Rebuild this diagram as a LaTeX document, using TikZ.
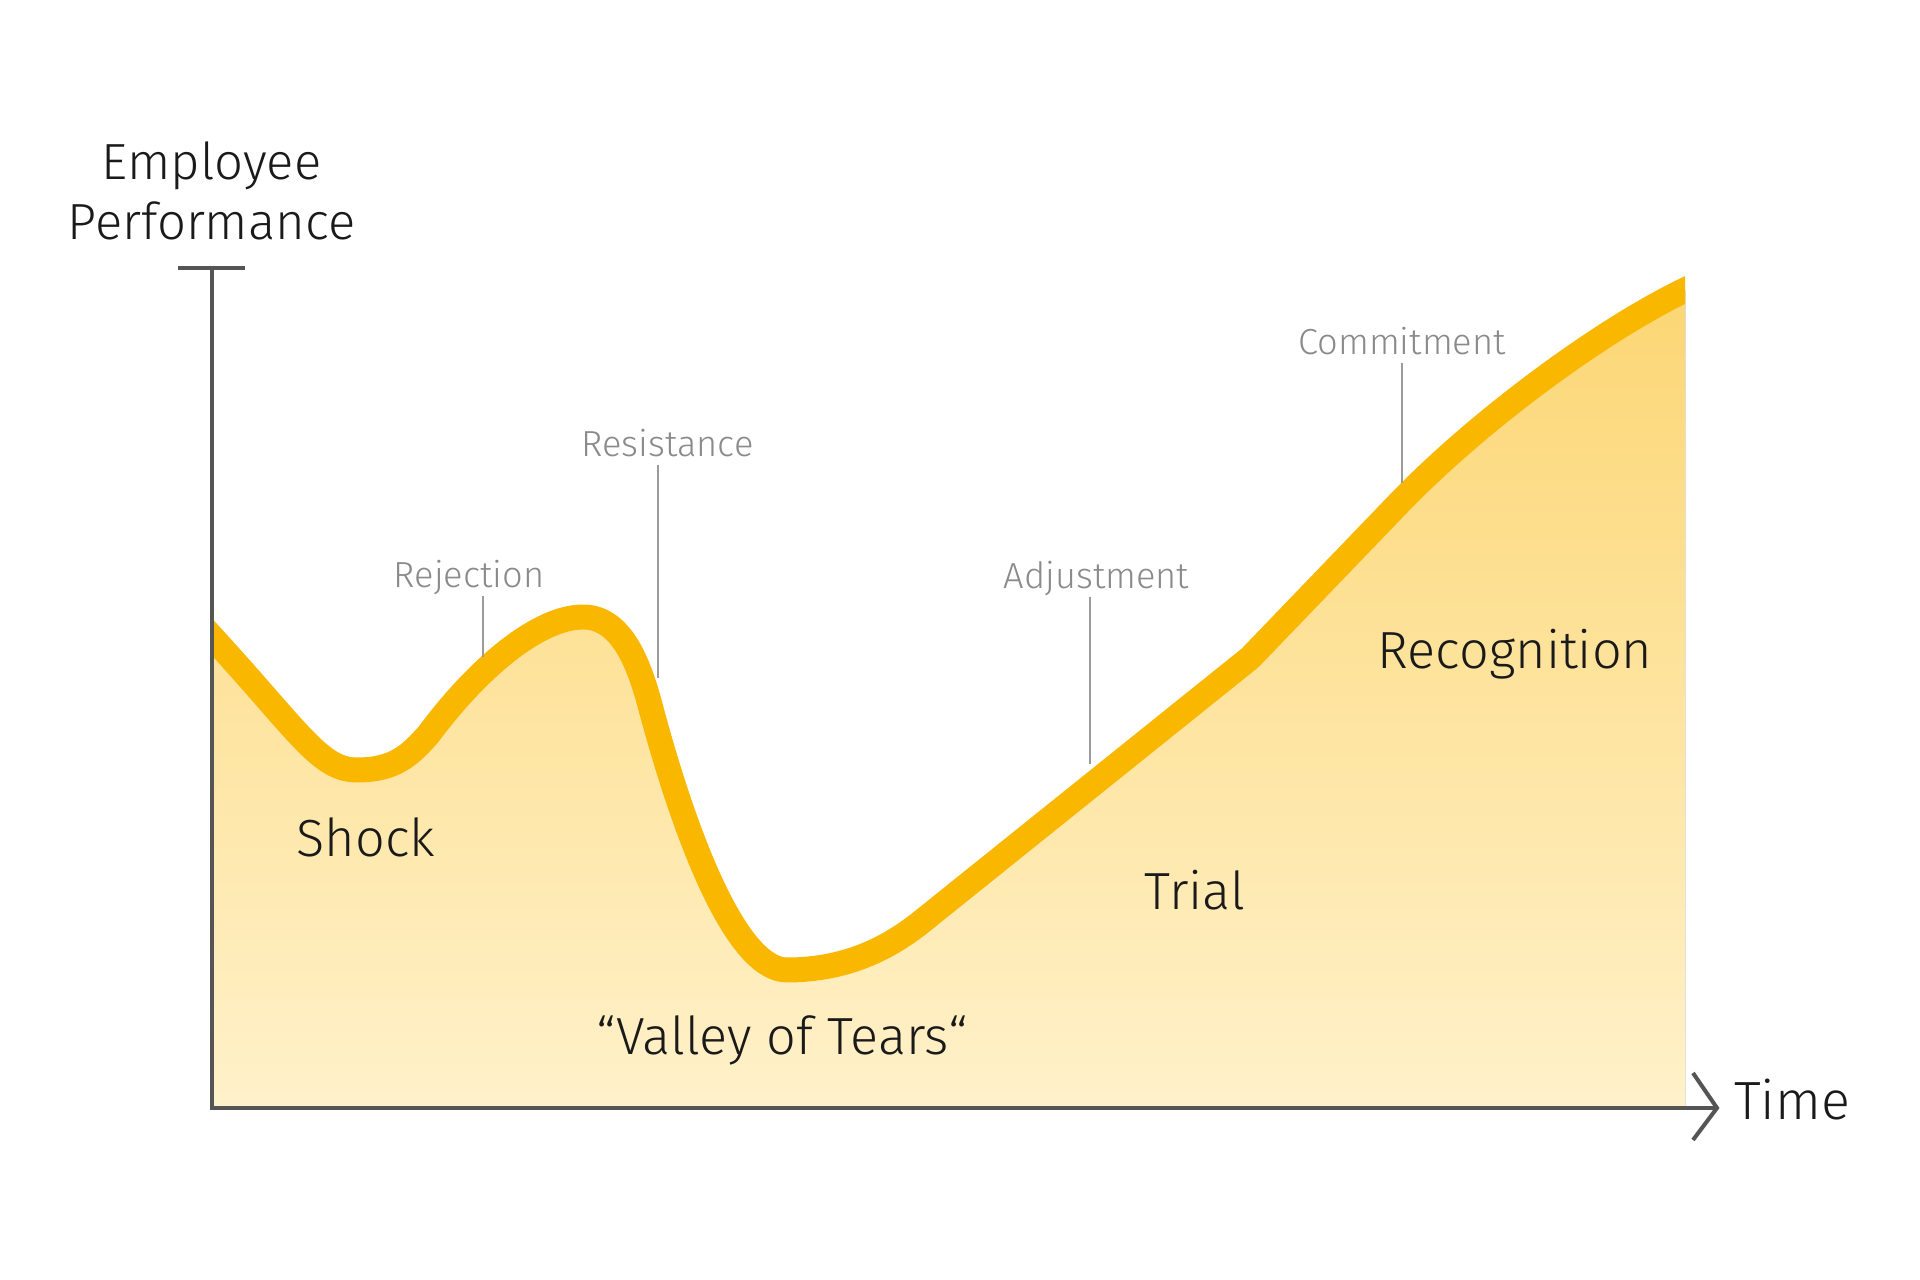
\documentclass[tikz,border=0pt]{standalone}
\usepackage{fontspec}
\setmainfont{Fira Sans Light}
\usetikzlibrary{positioning, calc}
\definecolor{cvyellow}{RGB}{249, 183, 0}
\definecolor{cvfilltop}{RGB}{252, 214, 115}
\definecolor{cvfillmid}{RGB}{253, 222, 138}
\definecolor{cvfillbot}{RGB}{255, 241, 202}
\definecolor{cvaxis}{RGB}{85, 85, 85}
\definecolor{cvgrey}{RGB}{138, 138, 138}
\definecolor{cvleader}{RGB}{155, 155, 155}
\definecolor{cvtext}{RGB}{26, 26, 26}
\tikzset{
  curve/.style={draw=cvyellow, line width=7.1pt, line join=round},
  areafill/.style={top color=cvfilltop, middle color=cvfillmid, bottom color=cvfillbot},
  axisline/.style={draw=cvaxis, line width=1.15pt},
  leader/.style={draw=cvleader, line width=0.6pt},
  phase/.style={text=cvtext, inner sep=0pt, anchor=base,
                font=\fontsize{14.85}{17.07}\selectfont},
  stage/.style={text=cvgrey, inner sep=0pt, anchor=base, text depth=2pt,
                font=\fontsize{10.3}{12}\selectfont},
}
% change curve, in pixel units
\newcommand{\changecurve}{(195,618.5) -- (212,637)
  .. controls (300,733) and (320,770) .. (357,770)
  .. controls (395,770) and (410,755) .. (428,735)
  .. controls (480,665) and (540,617) .. (583,617)
  .. controls (620,617) and (638,660) .. (650,705)
  .. controls (690,855) and (740,970) .. (787,970)
  .. controls (850,970) and (892,945) .. (920,923)
  -- (1250,658) -- (1402,500)
  .. controls (1480,420) and (1600,331) .. (1685,290) -- (1705,280.4)}

\begin{document}
\begin{tikzpicture}[x=0.01cm, y=-0.01cm]
  \fill[white] (0,0) rectangle (1920,1280);
  \useasboundingbox (0,0) rectangle (1920,1280);

  % area and curve
  \begin{scope}
    \clip (212,0) rectangle (1685,1280);
    \fill[areafill] \changecurve -- (1705,1108) -- (195,1108) -- cycle;
    \draw[curve] \changecurve;
  \end{scope}

  % axes
  \coordinate (origin) at (212,1108);
  \coordinate (ytop) at (212,268);
  \coordinate (xend) at (1717,1108);
  \coordinate (tickl) at (178,268);
  \coordinate (tickr) at (245,268);
  \coordinate (chevtop) at (1693,1073);
  \coordinate (chevbot) at (1693,1140);
  \draw[axisline] (ytop) -- (origin) -- (xend);
  \draw[axisline] (tickl) -- (tickr);
  \draw[axisline] (chevtop) -- (xend) -- (chevbot);

  \node[phase, align=center, font=\fontsize{14.45}{17.07}\selectfont] (perf) at (211.5,240) {Employee\\Performance};
  \node[phase, font=\fontsize{15.3}{18}\selectfont] (time) at (1792,1120) {Time};

  % phases
  \node[phase] (shock) at (366,857) {Shock};
  \node[phase] (valley) at (782,1055) {“Valley of Tears“};
  \node[phase] (trial) at (1195,910) {Trial};
  \node[phase] (recog) at (1515,669) {Recognition};

  % stages with leaders
  \node[stage] (rej) at (469,588) {Rejection};
  \node[stage] (res) at (667.5,457) {Resistance};
  \node[stage] (adj) at (1096.5,589) {Adjustment};
  \node[stage] (com) at (1402,355) {Commitment};
  \coordinate (rejtip) at (483,657);
  \coordinate (restip) at (658,678);
  \coordinate (adjtip) at (1090,764);
  \coordinate (comtip) at (1402,483);
  \draw[leader] (rej.south -| rejtip) -- (rejtip);
  \draw[leader] (res.south -| restip) -- (restip);
  \draw[leader] (adj.south -| adjtip) -- (adjtip);
  \draw[leader] (com.south -| comtip) -- (comtip);
\end{tikzpicture}
\end{document}
